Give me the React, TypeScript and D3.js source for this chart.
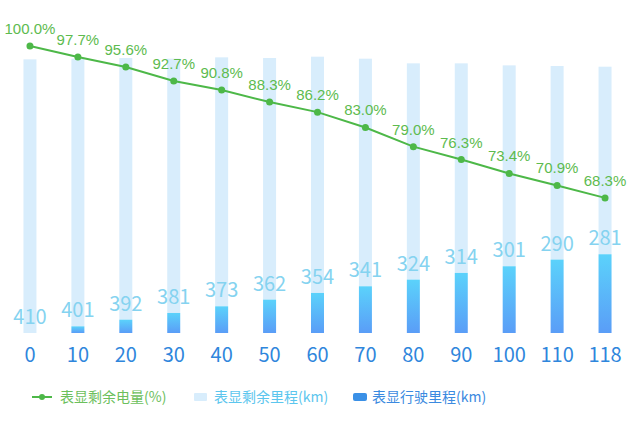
import React from "react";
import * as d3 from "d3";

const categories = ["0", "10", "20", "30", "40", "50", "60", "70", "80", "90", "100", "110", "118"];
const driven = [0, 10, 20, 30, 40, 50, 60, 70, 80, 90, 100, 110, 118];
const remaining = [410, 401, 392, 381, 373, 362, 354, 341, 324, 314, 301, 290, 281];
const battery = [100.0, 97.7, 95.6, 92.7, 90.8, 88.3, 86.2, 83.0, 79.0, 76.3, 73.4, 70.9, 68.3];
const legendLabels = ["表显剩余电量(%)", "表显剩余里程(km)", "表显行驶里程(km)"];

const W = 640;
const H = 428;
const FONT = "'Noto Sans CJK SC', 'Noto Sans', sans-serif";

export default function App() {
  const x = d3.scaleBand<string>().domain(categories).range([6, 629]).padding(0);
  const yKm = d3.scaleLinear().domain([0, 430]).range([333, 46]);
  const yPct = d3.scaleLinear().domain([40, 100]).range([333.5, 46]);
  const bw = 13;
  const cx = (c: string) => (x(c) as number) + x.bandwidth() / 2;

  const line = d3
    .line<number>()
    .x((_, i) => cx(categories[i]))
    .y((d) => yPct(d));

  return (
    <svg width={W} height={H} style={{ position: "absolute", left: 0, top: 0, background: "#fff" }}>
      <defs>
        <linearGradient id="darkGrad" x1="0" y1="0" x2="0" y2="1">
          <stop offset="0%" stopColor="#5bd2fb" />
          <stop offset="100%" stopColor="#5a9df7" />
        </linearGradient>
      </defs>
      {categories.map((c, i) => {
        const base = yKm(driven[i]);
        const top = yKm(driven[i] + remaining[i]);
        return (
          <g key={c}>
            <rect x={cx(c) - bw / 2} y={top} width={bw} height={base - top} fill="#d8edfc" />
            {driven[i] > 0 && (
              <rect x={cx(c) - bw / 2} y={base} width={bw} height={yKm(0) - base} fill="url(#darkGrad)" />
            )}
            <text
              x={cx(c)}
              y={base - 9}
              textAnchor="middle"
              fontFamily={FONT}
              fontSize={20}
              fill="#85d3f0"
            >
              {remaining[i]}
            </text>
            <text
              x={cx(c)}
              y={362}
              textAnchor="middle"
              fontFamily={FONT}
              fontSize={20}
              fill="#2f86dc"
            >
              {c}
            </text>
          </g>
        );
      })}
      <path d={line(battery) || ""} fill="none" stroke="#4db848" strokeWidth={2} />
      {battery.map((v, i) => (
        <g key={"p" + i}>
          <circle cx={cx(categories[i])} cy={yPct(v)} r={3.5} fill="#4db848" />
          <text
            x={cx(categories[i])}
            y={yPct(v) - 12}
            textAnchor="middle"
            fontFamily="'Liberation Sans', Arial, sans-serif"
            fontSize={15}
            fill="#5dbb4f"
          >
            {v.toFixed(1)}%
          </text>
        </g>
      ))}
      {/* legend */}
      <g fontFamily={FONT} fontSize={14}>
        <line x1={32} x2={52} y1={397} y2={397} stroke="#4db848" strokeWidth={2} />
        <circle cx={42} cy={397} r={3} fill="#4db848" />
        <text x={60} y={402} fill="#6cc05c">{legendLabels[0]}</text>
        <rect x={194} y={393} width={13} height={8} rx={1} fill="#d8edfc" />
        <text x={214} y={402} fill="#5cc6ee">{legendLabels[1]}</text>
        <rect x={353} y={393} width={14} height={8} rx={2} fill="#3a90e6" />
        <text x={372} y={402} fill="#3b8ae0">{legendLabels[2]}</text>
      </g>
    </svg>
  );
}
